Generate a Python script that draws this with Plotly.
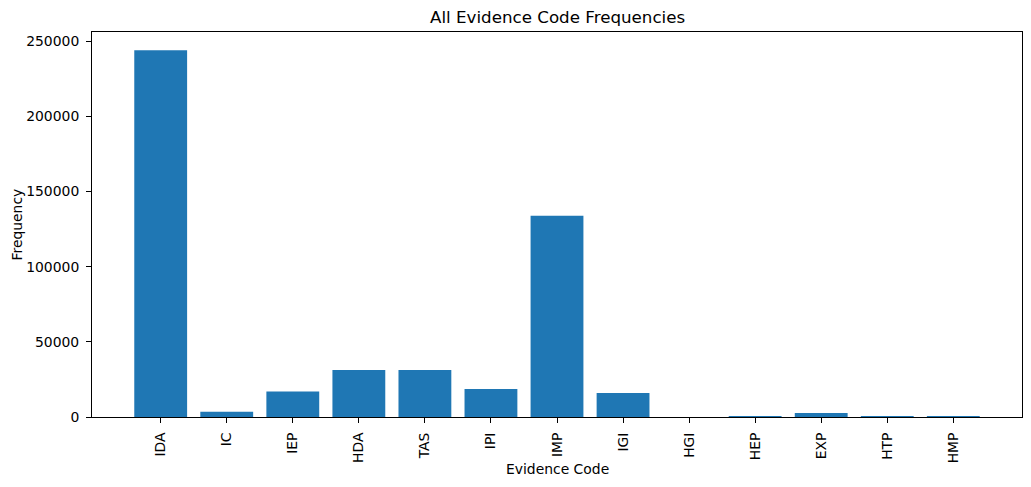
import plotly.graph_objects as go

codes = ["IDA", "IC", "IEP", "HDA", "TAS", "IPI", "IMP", "IGI", "HGI", "HEP", "EXP", "HTP", "HMP"]
freqs = [244000, 3500, 16900, 31300, 31300, 18600, 134000, 16000, 0, 650, 2700, 650, 600]
y_ticks = [0, 50000, 100000, 150000, 200000, 250000]

W, H = 1031, 487
L, R, T, B = 92, 9, 32, 70

fig = go.Figure(go.Bar(x=list(range(len(codes))), y=freqs, width=0.8,
                       marker=dict(color="#1f77b4", line=dict(width=0))))

ymax = max(freqs) * 1.05
fig.update_layout(
    width=W, height=H,
    margin=dict(l=L, r=R, t=T, b=B, pad=0),
    plot_bgcolor="white", paper_bgcolor="white",
    font=dict(family="DejaVu Sans", size=13.9, color="black"),
    showlegend=False,
    xaxis=dict(
        range=[-1.04, len(codes) - 1 + 1.04],
        tickmode="array", tickvals=list(range(len(codes))), ticktext=codes,
        tickangle=-90, ticks="outside", ticklen=5, tickwidth=1, tickcolor="black",
        showline=True, linecolor="black", linewidth=1, mirror=True,
        showgrid=False, zeroline=False, ticklabelstandoff=4,
    ),
    yaxis=dict(
        range=[0, ymax],
        tickmode="array", tickvals=y_ticks, ticktext=[str(v) for v in y_ticks],
        ticks="outside", ticklen=5, tickwidth=1, tickcolor="black",
        showline=True, linecolor="black", linewidth=1, mirror=True,
        showgrid=False, zeroline=False, ticklabelstandoff=4,
    ),
    annotations=[
        dict(text="All Evidence Code Frequencies", xref="paper", yref="paper",
             x=0.5, y=1, yshift=3, xanchor="center", yanchor="bottom",
             showarrow=False, font=dict(size=16.7)),
        dict(text="Evidence Code", xref="paper", yref="paper",
             x=0.5, y=0, yshift=-42, xanchor="center", yanchor="top",
             showarrow=False, font=dict(size=13.9)),
        dict(text="Frequency", xref="paper", yref="paper",
             x=0, y=0.5, xshift=-86, xanchor="left", yanchor="middle",
             textangle=-90, showarrow=False, font=dict(size=13.9)),
    ],
)

fig.write_html("out.html")
